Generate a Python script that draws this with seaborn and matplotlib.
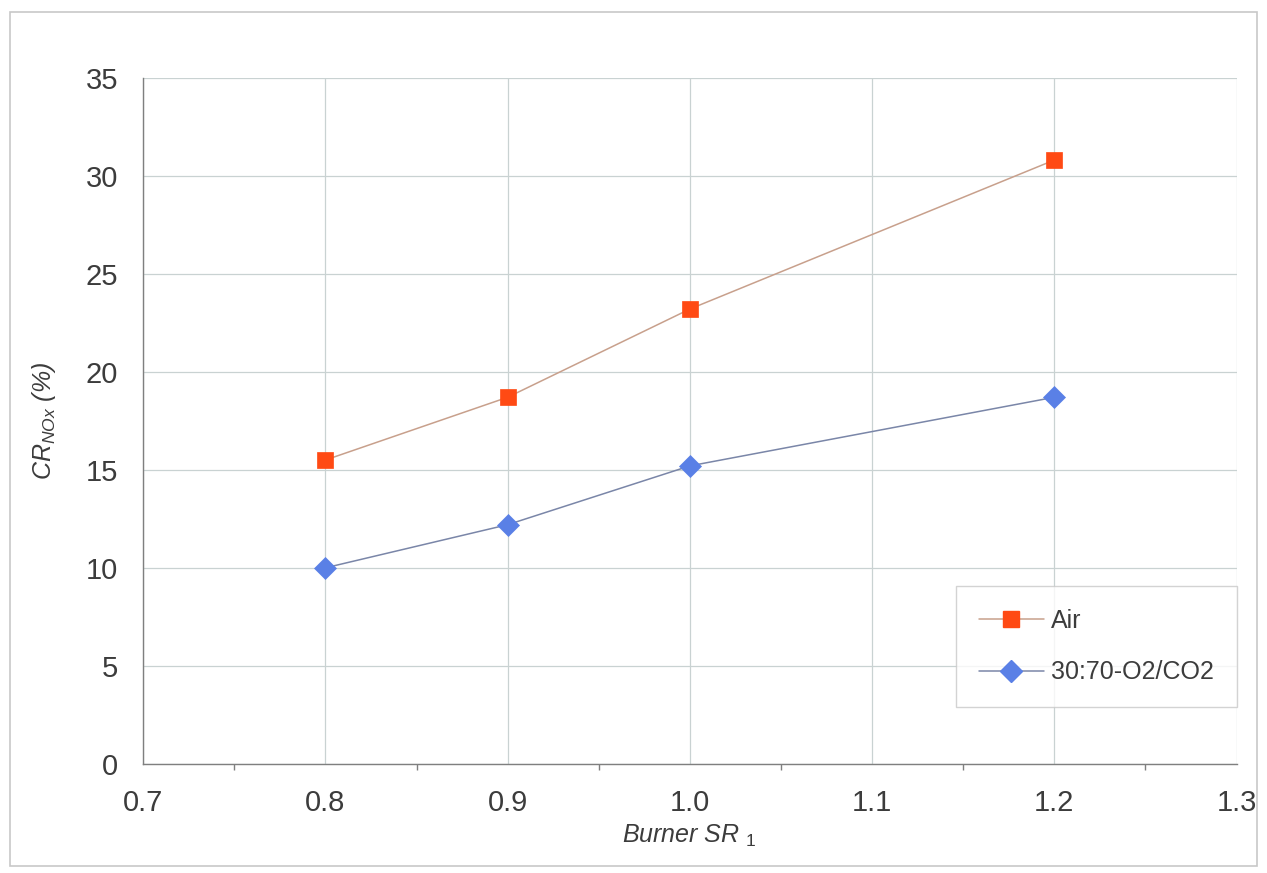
import numpy as np
import pandas as pd
import matplotlib
matplotlib.use("Agg")
import matplotlib.pyplot as plt
from matplotlib.lines import Line2D
from matplotlib.patches import Rectangle
from matplotlib.ticker import MultipleLocator, FormatStrFormatter
import seaborn as sns

# data
sr = [0.8, 0.9, 1.0, 1.2]
cr_air = [15.5, 18.7, 23.2, 30.8]
cr_oxy = [10.0, 12.2, 15.2, 18.7]
series_names = ["Air", "30:70-O2/CO2"]

sns.set_theme(style="white")
plt.rcParams["font.family"] = ["Liberation Sans", "DejaVu Sans"]
plt.rcParams["mathtext.fontset"] = "custom"
plt.rcParams["mathtext.it"] = "Liberation Sans:italic"
plt.rcParams["mathtext.rm"] = "Liberation Sans"

txt = "#3c3c3c"
grid_c = "#c9d2d2"

df = pd.DataFrame({"sr": sr * 2,
                   "cr": cr_air + cr_oxy,
                   "gas": [series_names[0]] * len(sr) + [series_names[1]] * len(sr)})

fig = plt.figure(figsize=(12.67, 8.73), dpi=100)
ax = fig.add_axes([0.113, 0.125, 0.863, 0.786])

styles = {
    "Air": dict(color="#c8a08c", marker="s", mfc="#ff4a14", mec="#ff4a14", ms=11),
    "30:70-O2/CO2": dict(color="#7a86a8", marker="D", mfc="#5a80e6", mec="#5a80e6", ms=11),
}
for name in series_names:
    st = styles[name]
    sns.lineplot(data=df[df.gas == name], x="sr", y="cr", ax=ax,
                 color=st["color"], lw=1.1, marker=st["marker"],
                 markerfacecolor=st["mfc"], markeredgecolor=st["mec"],
                 markersize=st["ms"], markeredgewidth=0.5, legend=False)

ax.set_xlim(0.7, 1.3)
ax.set_ylim(0, 35)
ax.xaxis.set_major_locator(MultipleLocator(0.1))
ax.xaxis.set_minor_locator(MultipleLocator(0.05))
ax.xaxis.set_major_formatter(FormatStrFormatter("%.1f"))
ax.yaxis.set_major_locator(MultipleLocator(5))
ax.grid(True, which="major", color=grid_c, lw=0.9)
ax.set_axisbelow(True)

for s in ["top", "right"]:
    ax.spines[s].set_visible(False)
for s in ["left", "bottom"]:
    ax.spines[s].set_color("#7f7f7f")
    ax.spines[s].set_linewidth(1)

ax.tick_params(axis="both", which="major", direction="out", length=8, width=1,
               color="#7f7f7f", labelsize=21, labelcolor=txt, pad=10)
ax.tick_params(axis="x", which="minor", direction="out", length=4, width=1,
               color="#7f7f7f", bottom=True)

ax.set_xlabel(r"Burner SR $_{\mathit{1}}$", fontsize=18, style="italic",
              color=txt, labelpad=4)
ax.set_ylabel(r"$\mathit{CR}_{\mathit{NOx}}$ (%)", fontsize=18, style="italic",
              color=txt, labelpad=20)

handles = [Line2D([], [], color=styles[n]["color"], lw=1.1, marker=styles[n]["marker"],
                  markerfacecolor=styles[n]["mfc"], markeredgecolor=styles[n]["mec"],
                  markersize=styles[n]["ms"]) for n in series_names]
leg = ax.legend(handles, series_names, loc="lower right",
                bbox_to_anchor=(1.0, 0.083), borderaxespad=0, fontsize=18, frameon=True,
                fancybox=False, edgecolor="#c8c8c8", labelspacing=1.1,
                borderpad=0.9, handlelength=2.6, handletextpad=0.3)
leg.get_frame().set_linewidth(1)
for t in leg.get_texts():
    t.set_color(txt)

fig.patches.append(Rectangle((0.008, 0.008), 0.984, 0.978, transform=fig.transFigure,
                             fill=False, edgecolor="#c8c8c8", lw=1.2))

fig.savefig("out.png", dpi=100)
